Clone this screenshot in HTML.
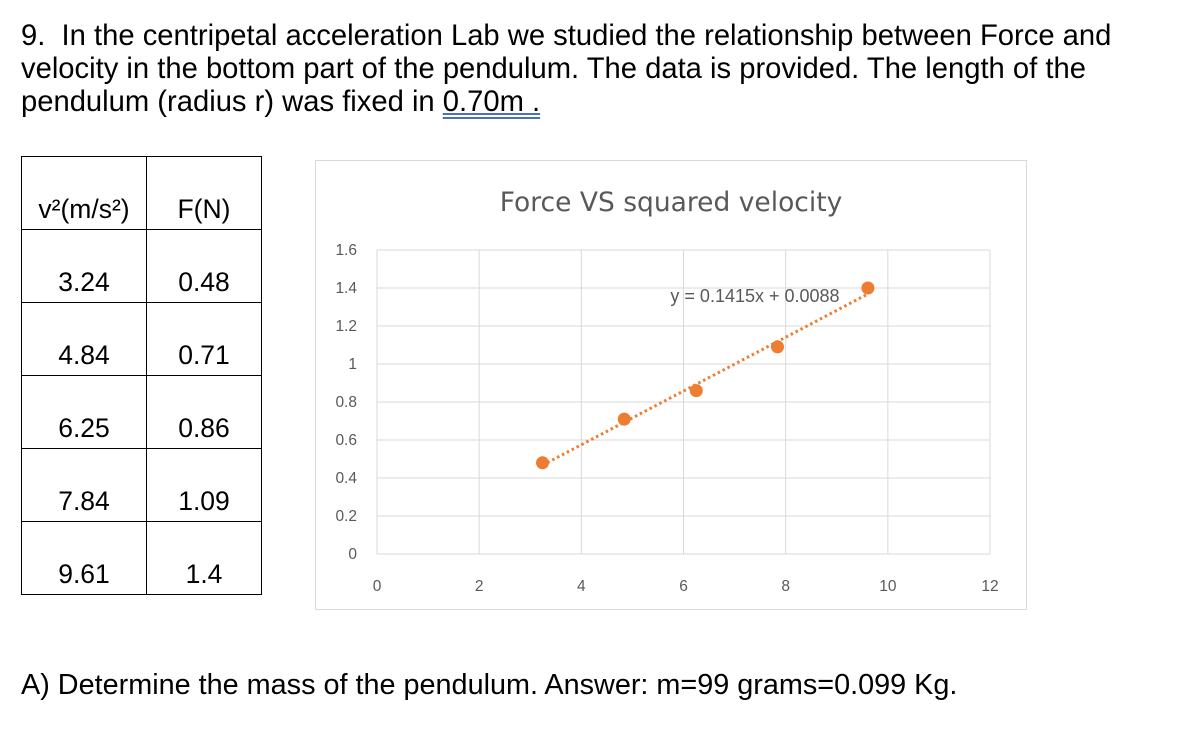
<!DOCTYPE html>
<html><head><meta charset="utf-8"><style>
body{margin:0;width:1182px;height:744px;background:#fff;position:relative;overflow:hidden;font-family:"Liberation Sans",Arial,sans-serif;}
.q{position:absolute;left:21px;top:20px;font-size:29.2px;line-height:33px;color:#000;white-space:nowrap;}
.u{text-decoration:underline;text-decoration-style:double;text-decoration-color:#4a6fc0;}
table{position:absolute;left:21px;top:156px;border-collapse:collapse;}
td{border:1.5px solid #000;font-size:26.5px;text-align:center;vertical-align:bottom;padding:0 0 4px 0;height:68px;}
.ans{position:absolute;left:21px;top:669px;font-size:28.8px;white-space:nowrap;}
</style></head><body>
<div class="q">9.&nbsp; In the centripetal acceleration Lab we studied the relationship between Force and<br>velocity in the bottom part of the pendulum. The data is provided. The length of the<br>pendulum (radius r) was fixed in <span class="u">0.70m .</span></div>
<table>
<tr><td style="width:124px">v²(m/s²)</td><td style="width:114px">F(N)</td></tr>
<tr><td>3.24</td><td>0.48</td></tr>
<tr><td>4.84</td><td>0.71</td></tr>
<tr><td>6.25</td><td>0.86</td></tr>
<tr><td>7.84</td><td>1.09</td></tr>
<tr><td>9.61</td><td>1.4</td></tr>
</table>
<svg id="chart" style="position:absolute;left:0;top:0" width="1182" height="744"></svg>
<div class="ans">A) Determine the mass of the pendulum. Answer: m=99 grams=0.099 Kg.</div>
<script>
const xs=[3.24,4.84,6.25,7.84,9.61];
const ys=[0.48,0.71,0.86,1.09,1.4];
const xTicks=[0,2,4,6,8,10,12];
const yTicks=[0,0.2,0.4,0.6,0.8,1,1.2,1.4,1.6];
const slope=0.1415, intercept=0.0088;
const NS="http://www.w3.org/2000/svg";
const svg=document.getElementById('chart');
const X=v=>377+v*(990-377)/12;
const Y=v=>554-v*(554-250)/1.6;
function mk(t,a,txt){const e=document.createElementNS(NS,t);for(const k in a)e.setAttribute(k,a[k]);if(txt!==undefined)e.textContent=txt;svg.appendChild(e);return e;}
const frame=mk('rect',{x:315.5,y:160.5,width:711,height:449,fill:'#fff',stroke:'#d9d9d9'});


const title=mk('text',{x:671,y:211,'text-anchor':'middle','font-size':26.5,fill:'#595959','font-family':'DejaVu Sans, sans-serif'},'Force VS squared velocity');


yTicks.forEach(v=>{const g=mk('line',{x1:X(0),x2:X(12),y1:Y(v),y2:Y(v),stroke:'#d9d9d9'});


const t=mk('text',{x:357,y:Y(v)+5,'text-anchor':'end','font-size':15.5,fill:'#595959'},String(v));

});
xTicks.forEach(v=>{const g=mk('line',{x1:X(v),x2:X(v),y1:Y(0),y2:Y(1.6),stroke:'#d9d9d9'});


const t=mk('text',{x:X(v),y:591,'text-anchor':'middle','font-size':15.5,fill:'#595959'},String(v));

});
const x0=Math.min(...xs),x1=Math.max(...xs);
const tl=mk('line',{x1:X(x0),y1:Y(slope*x0+intercept),x2:X(x1),y2:Y(slope*x1+intercept),stroke:'#ed7d31','stroke-width':3,'stroke-dasharray':'2.5 3'});


const eq=mk('text',{x:755,y:302,'text-anchor':'middle','font-size':18,fill:'#595959'},'y = 0.1415x + 0.0088');


xs.forEach((v,i)=>{const c=mk('circle',{cx:X(v),cy:Y(ys[i]),r:6.5,fill:'#ed7d31'});

});
</script>
</body></html>
